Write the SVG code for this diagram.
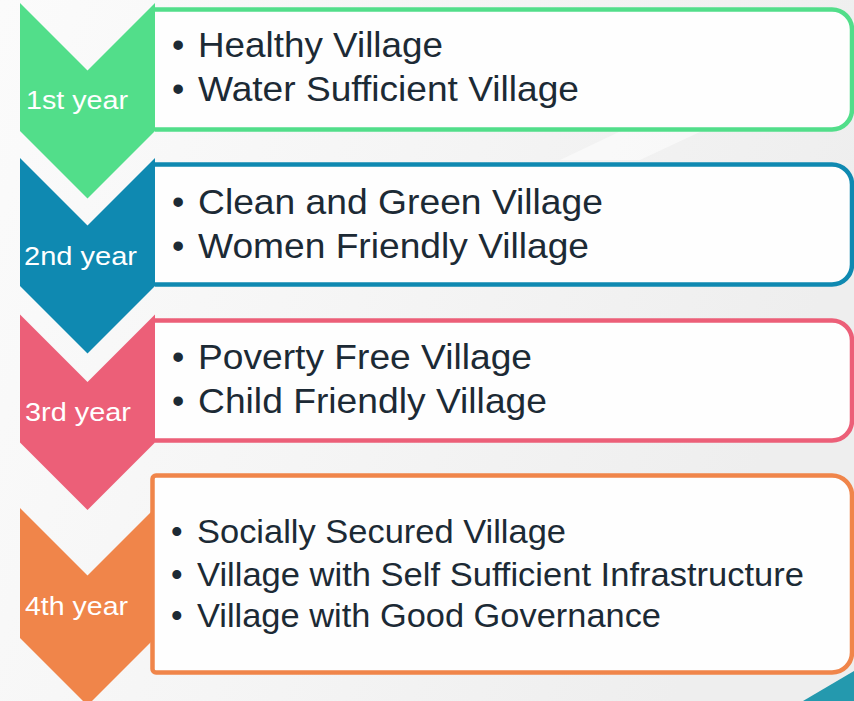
<svg xmlns="http://www.w3.org/2000/svg" width="854" height="701" viewBox="0 0 854 701">
<defs>
<linearGradient id="bg" x1="0" y1="0" x2="1" y2="0.3">
<stop offset="0" stop-color="#FBFBFB"/>
<stop offset="0.5" stop-color="#F5F5F5"/>
<stop offset="1" stop-color="#EEEEEE"/>
</linearGradient>
<style>
.box{fill:#FEFEFE;stroke-width:4.5}
text{font-family:'Liberation Sans','Arimo',Arial,Helvetica,sans-serif}
.item{font-size:35px;fill:#1C2A35}
.item4{font-size:33px;fill:#1C2A35}
.yr{font-size:26px;fill:#FFFFFF}
</style>
</defs>
<rect width="854" height="701" fill="url(#bg)"/>
<polygon points="560,160 854,20 854,60 640,160" fill="#FFFFFF" opacity="0.5"/>
<polygon points="803,701 854,671 854,701" fill="#2499AE"/>

<g id="connectors"></g>

<g id="year1">
<path class="box" stroke="#52DE8A" d="M155,9.5 H832 A20,20 0 0 1 852,29.5 V109.5 A20,20 0 0 1 832,129.5 H155"/>
<polygon points="20,3 87.5,70.5 155,3 155,131 87.5,198.5 20,131" fill="#52DE8A"/>
<text class="yr" x="26" y="109" textLength="102" lengthAdjust="spacingAndGlyphs">1st year</text>
<text class="item" x="172" y="57">•</text>
<text class="item" x="198" y="57" textLength="245" lengthAdjust="spacingAndGlyphs">Healthy Village</text>
<text class="item" x="172" y="101">•</text>
<text class="item" x="198" y="101" textLength="381" lengthAdjust="spacingAndGlyphs">Water Sufficient Village</text>
</g>

<g id="year2">
<path class="box" stroke="#0F89B1" d="M155,164.5 H832 A20,20 0 0 1 852,184.5 V264.5 A20,20 0 0 1 832,284.5 H155"/>
<polygon points="20,158 87.5,225.5 155,158 155,286 87.5,353.5 20,286" fill="#0F89B1"/>
<text class="yr" x="24" y="265" textLength="113" lengthAdjust="spacingAndGlyphs">2nd year</text>
<text class="item" x="172" y="214">•</text>
<text class="item" x="198" y="214" textLength="405" lengthAdjust="spacingAndGlyphs">Clean and Green Village</text>
<text class="item" x="172" y="258">•</text>
<text class="item" x="198" y="258" textLength="391" lengthAdjust="spacingAndGlyphs">Women Friendly Village</text>
</g>

<g id="year3">
<path class="box" stroke="#EC5F78" d="M155,320.5 H832 A20,20 0 0 1 852,340.5 V420.5 A20,20 0 0 1 832,440.5 H155"/>
<polygon points="20,314.5 87.5,382 155,314.5 155,442.5 87.5,510 20,442.5" fill="#EC5F78"/>
<text class="yr" x="25" y="421" textLength="106" lengthAdjust="spacingAndGlyphs">3rd year</text>
<text class="item" x="172" y="369">•</text>
<text class="item" x="198" y="369" textLength="334" lengthAdjust="spacingAndGlyphs">Poverty Free Village</text>
<text class="item" x="172" y="413">•</text>
<text class="item" x="198" y="413" textLength="349" lengthAdjust="spacingAndGlyphs">Child Friendly Village</text>
</g>

<g id="year4">
<polygon points="20,508 87.5,575.5 155,508 155,638 87.5,705.5 20,638" fill="#F0854A"/>
<path class="box" stroke="#F0854A" d="M156,475.5 H832 A20,20 0 0 1 852,495.5 V652.5 A20,20 0 0 1 832,672.5 H156 A3.5,3.5 0 0 1 152.5,669 V479 A3.5,3.5 0 0 1 156,475.5 Z"/>
<text class="yr" x="25" y="615" textLength="103" lengthAdjust="spacingAndGlyphs">4th year</text>
<text class="item4" x="171" y="543">•</text>
<text class="item4" x="197" y="543" textLength="369" lengthAdjust="spacingAndGlyphs">Socially Secured Village</text>
<text class="item4" x="171" y="586">•</text>
<text class="item4" x="197" y="586" textLength="607" lengthAdjust="spacingAndGlyphs">Village with Self Sufficient Infrastructure</text>
<text class="item4" x="171" y="627">•</text>
<text class="item4" x="197" y="627" textLength="464" lengthAdjust="spacingAndGlyphs">Village with Good Governance</text>
</g>
</svg>
